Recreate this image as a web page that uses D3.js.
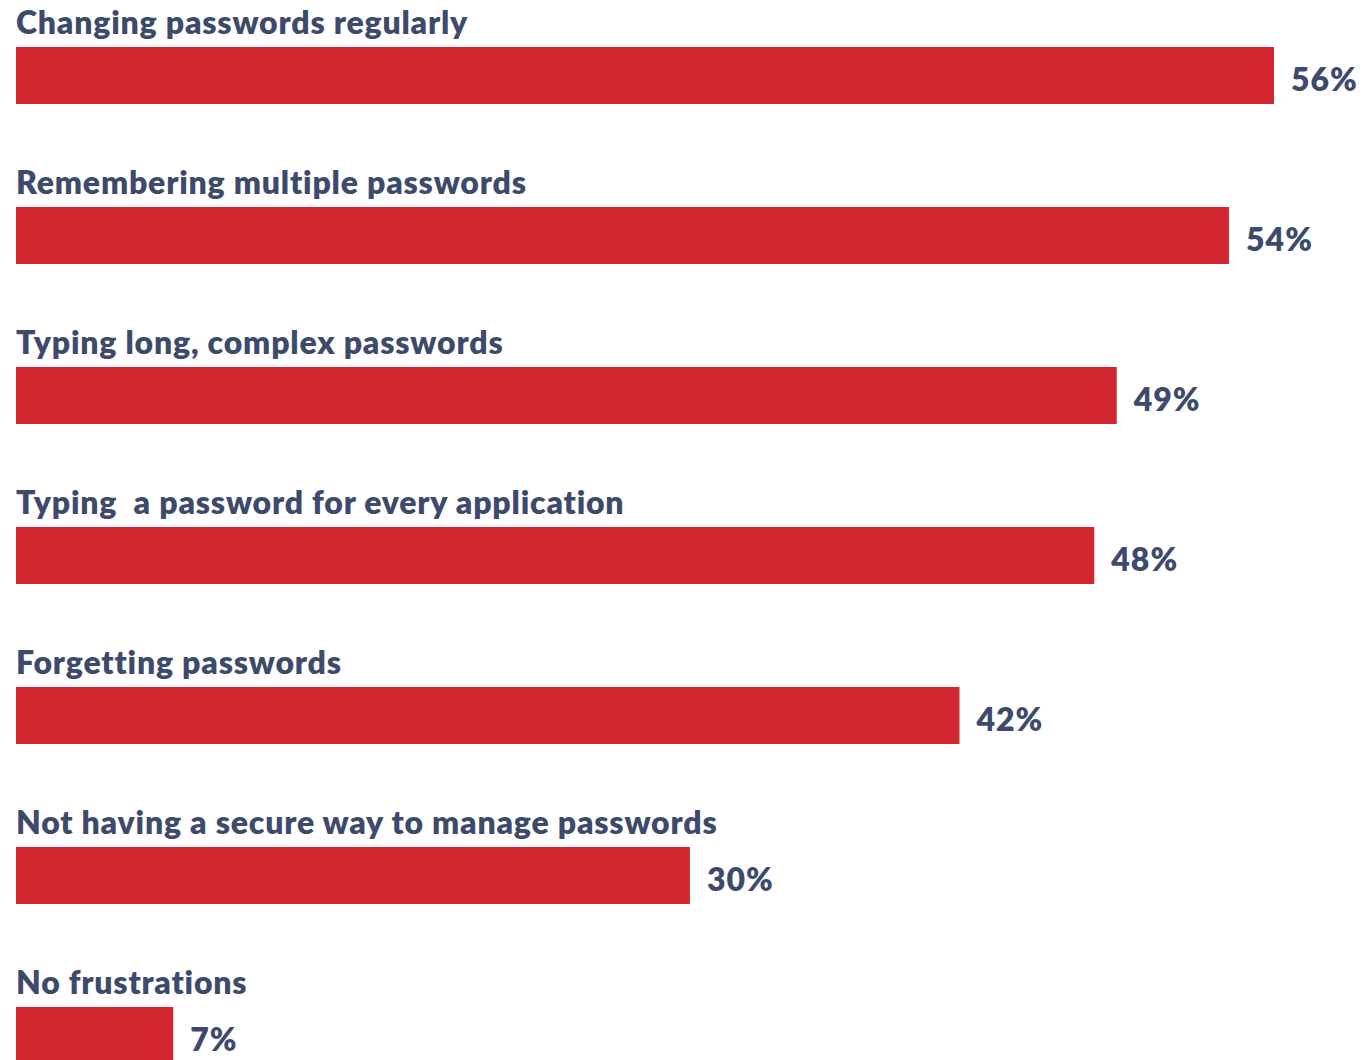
<!DOCTYPE html>
<html><head><meta charset="utf-8">
<script src="https://cdn.jsdelivr.net/npm/d3@7"></script>
<style>html,body{margin:0;padding:0;background:#fff;overflow:hidden}</style>
</head><body>
<svg id="chart" width="1363" height="1060"></svg>
<script>
const categories = [
  "Changing passwords regularly",
  "Remembering multiple passwords",
  "Typing long, complex passwords",
  "Typing  a password for every application",
  "Forgetting passwords",
  "Not having a secure way to manage passwords",
  "No frustrations"
];
const values = [56, 54, 49, 48, 42, 30, 7];
const valueLabels = ["56%", "54%", "49%", "48%", "42%", "30%", "7%"];

const svg = d3.select("#chart");
const left = 16;
const step = 160, barH = 57, firstBarTop = 47;
const x = d3.scaleLinear().domain([0, 56]).range([0, 1258]);
const y = d3.scaleBand().domain(categories)
  .range([firstBarTop, firstBarTop + step * categories.length]).padding(0);

const rows = categories.map((c, i) => ({c, v: values[i], l: valueLabels[i]}));
const row = svg.append("g").selectAll("g.row").data(rows).enter().append("g").attr("class", "row")
  .attr("transform", d => `translate(${left},${y(d.c)})`);

row.append("rect").attr("x", 0).attr("y", 0).attr("width", d => x(d.v)).attr("height", barH).attr("fill", "#d32630");

const labels = row.append("text").attr("x", 0).attr("y", -13).text(d => d.c)
  .attr("fill", "#3d4a6b").attr("font-family", "Lato, sans-serif").attr("font-weight", 800)
  .attr("font-size", 32).attr("xml:space", "preserve").style("white-space", "pre");

// fit letter spacing to reference widths of first and longest labels
const nodes = labels.nodes();
const wA = nodes[0].getComputedTextLength(), wB = nodes[5].getComputedTextLength();
const lsA = (455 - wA) / (categories[0].length - 1);
const lsB = (695 - wB) / (categories[5].length - 1);
labels.attr("letter-spacing", (lsA + lsB) / 2);

row.append("text").attr("x", d => x(d.v) + 17).attr("y", 44).text(d => d.l)
  .attr("fill", "#3d4a6b").attr("font-family", "Lato, sans-serif").attr("font-weight", 800)
  .attr("font-size", 32).attr("letter-spacing", 1);
</script>
</body></html>
